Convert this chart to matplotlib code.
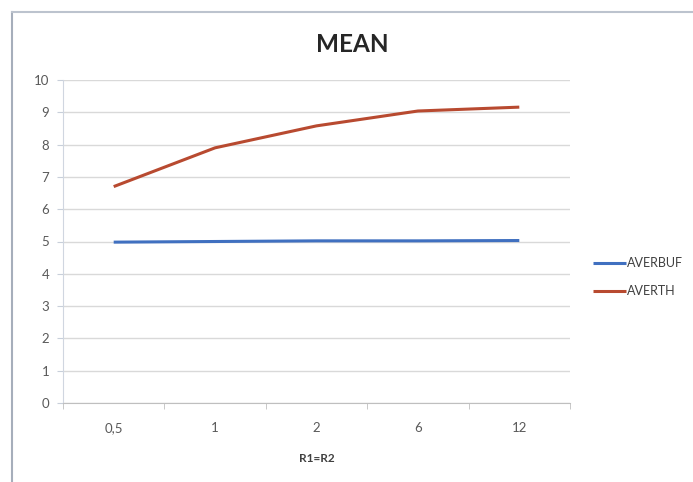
import matplotlib
matplotlib.use("Agg")
import matplotlib.pyplot as plt
from matplotlib.lines import Line2D

categories = ["0,5", "1", "2", "6", "12"]
averbuf = [4.98, 5.00, 5.02, 5.02, 5.03]
averth = [6.70, 7.90, 8.58, 9.04, 9.16]
y_ticks = list(range(0, 11))

plt.rcParams["font.family"] = ["Lato", "DejaVu Sans"]

W, H = 693, 482
fig = plt.figure(figsize=(W / 100, H / 100), dpi=100)
fig.patch.set_facecolor("white")

# plot area in pixel coordinates
left, right, top, bottom = 63, 570, 80, 403
ax = fig.add_axes([left / W, 1 - bottom / H, (right - left) / W, (bottom - top) / H])

x = list(range(len(categories)))
ax.plot(x, averbuf, color="#4070C0", lw=2.2, label="AVERBUF", solid_capstyle="butt")
ax.plot(x, averth, color="#B84A30", lw=2.2, label="AVERTH", solid_capstyle="butt")

ax.set_xlim(-0.5, len(categories) - 0.5)
ax.set_ylim(0, 10)
ax.set_yticks(y_ticks)
ax.set_xticks(x)
ax.set_xticklabels(categories)
ax.set_xticks([i + 0.5 for i in range(-1, len(categories))], minor=True)

ax.grid(axis="y", color="#D9D9D9", lw=1)
ax.set_axisbelow(True)
for s in ["top", "right"]:
    ax.spines[s].set_visible(False)
ax.spines["left"].set_color("#D0D6E0")
ax.spines["bottom"].set_color("#BFBFBF")
ax.tick_params(axis="y", colors="#595959", labelsize=9.5, length=4, color="#C8CFDA", pad=6)
ax.tick_params(axis="x", which="major", length=0, colors="#595959", labelsize=9.5, pad=14)
ax.tick_params(axis="x", which="minor", length=4, color="#BFBFBF")

ax.set_xlabel("R1=R2", fontsize=8.5, fontweight="bold", color="#404040", labelpad=13)
fig.text(352 / W, 1 - 45 / H, "MEAN", ha="center", va="center",
         fontsize=17.5, fontweight="bold", color="#262626")

ax.legend(loc="center left", bbox_to_anchor=(582 / W, 1 - 277 / H),
          bbox_transform=fig.transFigure, frameon=False, fontsize=9,
          handlelength=2.6, handletextpad=0.1, labelspacing=1.3,
          labelcolor="#404040")

# chart frame
fig.add_artist(Line2D([12 / W, 12 / W], [0, 1 - 12 / H], transform=fig.transFigure,
                      color="#A6AEBB", lw=1.5))
fig.add_artist(Line2D([12 / W, 1], [1 - 12 / H, 1 - 12 / H], transform=fig.transFigure,
                      color="#BCC3CE", lw=1.5))

fig.savefig("out.png", dpi=100, facecolor="white")
